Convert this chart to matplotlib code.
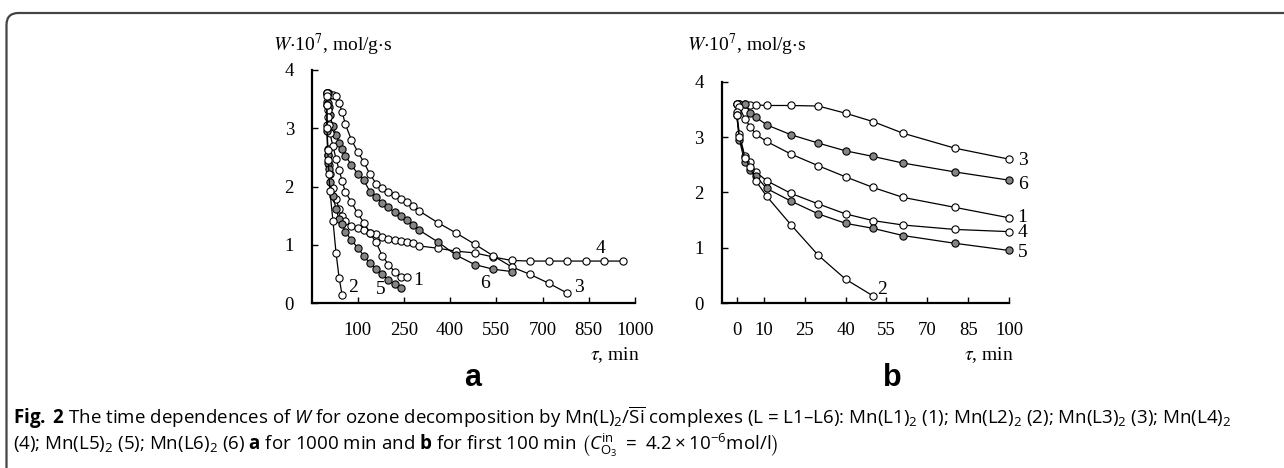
import numpy as np
import matplotlib.pyplot as plt
from matplotlib.patches import FancyBboxPatch

plt.rcParams['font.family'] = ['Liberation Serif', 'DejaVu Serif']
plt.rcParams['mathtext.fontset'] = 'custom'
plt.rcParams['mathtext.rm'] = 'Open Sans'
plt.rcParams['mathtext.it'] = 'Open Sans:italic'
plt.rcParams['mathtext.bf'] = 'Open Sans:bold'

# ---- data: panel b (first 100 min) ----
t_b = [0, 1, 3, 5, 7, 11, 20, 30, 40, 50, 61, 80, 100]
w1_b = [3.60, 3.55, 3.32, 3.19, 3.05, 2.92, 2.69, 2.48, 2.28, 2.09, 1.91, 1.73, 1.54]
w3_b = [3.60, 3.60, 3.60, 3.58, 3.58, 3.57, 3.57, 3.56, 3.43, 3.28, 3.07, 2.80, 2.60]
w4_b = [3.45, 3.05, 2.65, 2.54, 2.37, 2.21, 1.98, 1.79, 1.61, 1.49, 1.41, 1.33, 1.29]
w5_b = [3.40, 2.95, 2.54, 2.40, 2.30, 2.07, 1.84, 1.61, 1.44, 1.35, 1.22, 1.08, 0.95]
w6_b = [3.60, 3.60, 3.60, 3.44, 3.36, 3.22, 3.04, 2.89, 2.75, 2.65, 2.53, 2.37, 2.22]
t2_b = [0, 1, 3, 5, 7, 11, 20, 30, 40, 50]
w2_b = [3.40, 3.00, 2.62, 2.45, 2.21, 1.93, 1.41, 0.86, 0.43, 0.13]

# ---- data: panel a (1000 min), points after 100 min ----
t_first = [0, 1, 3, 5, 7, 10, 20, 30, 40, 50, 60, 80, 100]
t1_late = [120, 140, 160, 180, 200, 220, 240, 260]
w1_late = [1.38, 1.20, 1.04, 0.81, 0.66, 0.54, 0.44, 0.44]
t3_late = [120, 140, 160, 180, 200, 220, 240, 260, 280, 300, 360, 420, 480, 540, 600, 660, 720, 780]
w3_late = [2.42, 2.21, 2.05, 1.98, 1.91, 1.85, 1.78, 1.74, 1.66, 1.58, 1.38, 1.20, 1.01, 0.81, 0.62, 0.49, 0.34, 0.17]
t4_late = [120, 140, 160, 180, 200, 220, 240, 260, 280, 300, 360, 420, 480, 540, 600, 660, 720, 780, 840, 900, 960]
w4_late = [1.25, 1.21, 1.18, 1.14, 1.10, 1.08, 1.06, 1.05, 1.03, 0.98, 0.94, 0.89, 0.86, 0.79, 0.73, 0.72, 0.72, 0.72, 0.72, 0.72, 0.72]
t5_late = [120, 140, 160, 180, 200, 220, 240]
w5_late = [0.81, 0.68, 0.59, 0.49, 0.39, 0.32, 0.25]
t6_late = [120, 140, 160, 180, 200, 220, 240, 260, 280, 300, 360, 420, 480, 540, 600]
w6_late = [2.11, 1.91, 1.82, 1.72, 1.64, 1.56, 1.49, 1.42, 1.34, 1.25, 1.05, 0.82, 0.66, 0.58, 0.54]
t2_a = [0, 1, 3, 5, 7, 10, 20, 30, 40, 50]

xticks_a = [100, 250, 400, 550, 700, 850, 1000]
xticks_b = [0, 10, 25, 40, 55, 70, 85, 100]
yticks = [0, 1, 2, 3, 4]

OPEN = 'white'
FILL = '#858585'

W, H = 1284, 468
fig = plt.figure(figsize=(W / 100, H / 100), dpi=100)

ax_a = fig.add_axes([312 / W, 1 - 303 / H, 323 / W, 233 / H])
ax_b = fig.add_axes([721.7 / W, 1 - 303 / H, 287.3 / W, 221.3 / H])


def curve(ax, t, w, face):
    ax.plot(t, w, color='black', lw=0.9, marker='o', ms=5.2, mfc=face,
            mec='black', mew=0.8, clip_on=False)


# panel a
curve(ax_a, t_first + t4_late, w4_b + w4_late, OPEN)
curve(ax_a, t_first + t3_late, w3_b + w3_late, OPEN)
curve(ax_a, t_first + t6_late, w6_b + w6_late, FILL)
curve(ax_a, t_first + t1_late, w1_b + w1_late, OPEN)
curve(ax_a, t_first + t5_late, w5_b + w5_late, FILL)
curve(ax_a, t2_a, w2_b, OPEN)

# panel b
curve(ax_b, t_b, w3_b, OPEN)
curve(ax_b, t_b, w6_b, FILL)
curve(ax_b, t_b, w1_b, OPEN)
curve(ax_b, t_b, w4_b, OPEN)
curve(ax_b, t_b, w5_b, FILL)
curve(ax_b, t2_b, w2_b, OPEN)

for ax, xt, xl in [(ax_a, xticks_a, (-48, 1000)), (ax_b, xticks_b, (-5.5, 100))]:
    ax.set_xlim(*xl)
    ax.set_ylim(0, 4)
    ax.set_xticks(xt)
    ax.set_yticks(yticks)
    for s in ['top', 'right']:
        ax.spines[s].set_visible(False)
    for s in ['left', 'bottom']:
        ax.spines[s].set_linewidth(1.6)
    ax.tick_params(direction='in', length=4, width=1, labelsize=13.5)
    ax.tick_params(axis='x', pad=14)
    ax.tick_params(axis='y', pad=13)

# curve numbers
lab_kw = dict(fontsize=14, ha='center', va='center')
for txt, x, y in [('2', 86, 0.27), ('5', 176, 0.235), ('1', 297, 0.39),
                  ('6', 513, 0.33), ('3', 819, 0.26), ('4', 887, 0.94)]:
    ax_a.text(x, y, txt, **lab_kw)
for txt, x, y in [('3', 105, 2.57), ('6', 105, 2.15), ('1', 105, 1.54),
                  ('4', 105, 1.27), ('5', 105, 0.92), ('2', 53.3, 0.235)]:
    ax_b.text(x, y, txt, clip_on=False, **lab_kw)

# axis titles
ylab = r'$W$$\cdot$10$^7$, mol/g$\cdot$s'
fig.text(273 / W, 1 - 45 / H, ylab, fontsize=14, va='center', math_fontfamily='stix')
fig.text(687 / W, 1 - 45 / H, ylab, fontsize=14, va='center', math_fontfamily='stix')
fig.text(640 / W, 1 - 355 / H, r'$\tau$, min', fontsize=14, ha='right', va='center',
         math_fontfamily='stix')
fig.text(1014 / W, 1 - 355 / H, r'$\tau$, min', fontsize=14, ha='right', va='center',
         math_fontfamily='stix')

# panel letters
fig.text(473 / W, 1 - 378 / H, 'a', fontsize=22, fontweight='bold',
         family='Liberation Sans', ha='center', va='center')
fig.text(892 / W, 1 - 378 / H, 'b', fontsize=22, fontweight='bold',
         family='Liberation Sans', ha='center', va='center')

# caption
line1 = (r'$\mathbf{Fig.\;2}$ The time dependences of $\mathit{W}$ for ozone decomposition by '
         r'Mn(L)$_2$/$\overline{\mathrm{Si}}$ complexes (L = L1–L6): Mn(L1)$_2$ ($\mathit{1}$); '
         r'Mn(L2)$_2$ (2); Mn(L3)$_2$ (3); Mn(L4)$_2$')
line2 = (r'(4); Mn(L5)$_2$ ($\mathit{5}$); Mn(L6)$_2$ ($\mathit{6}$) $\mathbf{a}$ for 1000 min '
         r'and $\mathbf{b}$ for first 100 min '
         r'$\left(C_{\mathrm{O}_3}^{\mathrm{in}}\ =\ 4.2\times10^{-6}\mathrm{mol/l}\right)$')
cap_kw = dict(fontsize=13.5, family='Open Sans', math_fontfamily='custom', va='center')
fig.text(13 / W, 1 - 418 / H, line1, **cap_kw)
fig.text(13 / W, 1 - 445 / H, line2, **cap_kw)

# frame
frame = FancyBboxPatch((0.065, -0.5), 14, 4.5 + 0.55, transform=fig.dpi_scale_trans,
                       boxstyle='round,pad=0,rounding_size=0.12', fc='none',
                       ec='#444444', lw=1.6, clip_on=False)
fig.patches.append(frame)

fig.savefig('out.png', dpi=100)
